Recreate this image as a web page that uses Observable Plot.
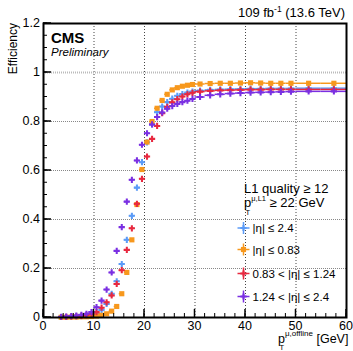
<!DOCTYPE html>
<html><head><meta charset="utf-8">
<script src="https://cdn.jsdelivr.net/npm/d3@7"></script>
<script src="https://cdn.jsdelivr.net/npm/@observablehq/plot@0.6"></script>
<style>body{margin:0;background:#fff}#chart svg{display:block}</style>
</head><body><div id="chart"></div>
<script>
// bin edges of the pT binning (GeV)
const binEdges = [3,4,5,6,7,8,9,10,11,12,13,14,15,16,17,18,19,20,21,22,23,24,25,26,27,28,29,30,32,34,36,38,40,42,44,46,48,50,55,60];
// efficiencies per series (one value per bin)
const effAll = [0.002,0.002,0.003,0.004,0.005,0.007,0.010,0.016,0.030,0.055,0.097,0.148,0.218,0.317,0.415,0.530,0.634,0.715,0.788,0.838,0.861,0.879,0.893,0.905,0.912,0.918,0.922,
  0.926,0.929,0.931,0.932,0.933,0.934,0.934,0.935,0.935,0.935,0.936,0.936];
const effBarrel = [0.001,0.001,0.002,0.002,0.003,0.003,0.004,0.006,0.009,0.015,0.026,0.045,0.097,0.184,0.317,0.461,0.604,0.716,0.800,0.854,0.886,0.911,0.929,0.938,0.944,0.948,0.951,
  0.953,0.955,0.956,0.956,0.957,0.958,0.957,0.956,0.956,0.956,0.956,0.956];
const effOverlap = [0.002,0.003,0.004,0.005,0.007,0.010,0.014,0.022,0.040,0.062,0.090,0.137,0.193,0.276,0.364,0.464,0.566,0.657,0.729,0.782,0.834,0.860,0.878,0.891,0.902,0.911,0.917,
  0.922,0.925,0.927,0.928,0.929,0.930,0.930,0.931,0.931,0.931,0.931,0.931];
const effEndcap = [0.003,0.004,0.006,0.008,0.011,0.015,0.022,0.042,0.069,0.114,0.184,0.272,0.369,0.473,0.562,0.641,0.705,0.752,0.788,0.818,0.837,0.852,0.863,0.872,0.879,0.885,0.892,
  0.900,0.907,0.911,0.914,0.916,0.918,0.919,0.920,0.921,0.922,0.923,0.923];

const seriesNames = ["|η| ≤ 2.4", "|η| ≤ 0.83", "0.83 < |η| ≤ 1.24", "1.24 < |η| ≤ 2.4"];
const seriesValues = [effAll, effBarrel, effOverlap, effEndcap];
const seriesColors = ["#5b9bf7", "#f7981d", "#e8283f", "#7a2fe2"];
const seriesSymbols = ["cross", "square", "cross", "cross"];

const xTickValues = [0,10,20,30,40,50,60];
const xTickLabels = ["0","10","20","30","40","50","60"];
const xMinorValues = d3.range(0, 60.001, 2);
const yTickValues = [0,0.2,0.4,0.6,0.8,1.0,1.2];
const yTickLabels = ["0","0.2","0.4","0.6","0.8","1","1.2"];
const yMinorValues = d3.range(0, 1.2001, 0.05);
const xGridValues = [10,20,30,40,50];
const yGridValues = [0.2,0.4,0.6,0.8];

const rows = [];
seriesValues.forEach((vals, s) => {
  vals.forEach((v, i) => {
    rows.push({series: s, lo: binEdges[i], hi: binEdges[i+1], x: (binEdges[i] + binEdges[i+1]) / 2, eff: v});
  });
});

const seriesMarks = [];
seriesValues.forEach((_, s) => {
  const d = rows.filter(r => r.series === s);
  seriesMarks.push(Plot.ruleY(d, {y: "eff", x1: "lo", x2: "hi", stroke: seriesColors[s], strokeWidth: 1.5}));
  seriesMarks.push(Plot.dot(d, {x: "x", y: "eff", symbol: seriesSymbols[s], fill: seriesColors[s], r: seriesSymbols[s] === "square" ? 2.9 : 2.6}));
});

const plot = Plot.plot({
  width: 353, height: 351,
  marginLeft: 43, marginRight: 7, marginTop: 23, marginBottom: 34,
  x: {domain: [0, 60], axis: null},
  y: {domain: [0, 1.2], axis: null},
  style: {fontFamily: "'Liberation Sans', Arial, sans-serif", background: "white", overflow: "visible"},
  marks: [
    Plot.ruleX(xGridValues, {stroke: "#444", strokeDasharray: "1,2", strokeWidth: 1}),
    Plot.ruleY(yGridValues, {stroke: "#888", strokeDasharray: "1,1", strokeWidth: 1}),
    Plot.ruleY([1], {stroke: "#bbb", strokeDasharray: "1,1", strokeWidth: 2}),
    ...seriesMarks,
    Plot.frame({stroke: "black", strokeWidth: 2})
  ]
});

const sx = plot.scale("x"), sy = plot.scale("y");
const svg = d3.select(plot);
const g = svg.append("g").attr("font-family", "'Liberation Sans', Arial, sans-serif").attr("fill", "black").attr("text-anchor", "start");
const x0 = sx.apply(0), y0 = sy.apply(0);

// y ticks (inward)
yMinorValues.forEach(v => g.append("line").attr("x1", x0).attr("x2", x0 + 4).attr("y1", sy.apply(v)).attr("y2", sy.apply(v)).attr("stroke", "black"));
yTickValues.forEach(v => g.append("line").attr("x1", x0).attr("x2", x0 + 8).attr("y1", sy.apply(v)).attr("y2", sy.apply(v)).attr("stroke", "black").attr("stroke-width", 1.5));
yTickValues.forEach((v, i) => g.append("text").attr("x", x0 - 3).attr("y", sy.apply(v)).attr("dy", "0.35em").attr("text-anchor", "end").attr("font-size", 12.5).text(yTickLabels[i]));
// x ticks (inward)
xMinorValues.forEach(v => g.append("line").attr("x1", sx.apply(v)).attr("x2", sx.apply(v)).attr("y1", y0).attr("y2", y0 - 4).attr("stroke", "black"));
xTickValues.forEach(v => g.append("line").attr("x1", sx.apply(v)).attr("x2", sx.apply(v)).attr("y1", y0).attr("y2", y0 - 8).attr("stroke", "black").attr("stroke-width", 1.5));
xTickValues.forEach((v, i) => g.append("text").attr("x", sx.apply(v)).attr("y", y0 + 13).attr("text-anchor", "middle").attr("font-size", 12.5).text(xTickLabels[i]));

// axis titles
g.append("text").attr("transform", "translate(17,23) rotate(-90)").attr("text-anchor", "end").attr("font-size", 12).text("Efficiency");
const xt = g.append("text").attr("x", 278).attr("y", 342.5).attr("font-size", 12.5);
xt.append("tspan").text("p");
xt.append("tspan").attr("dy", -6.5).attr("font-size", 8).text("μ,offline");
xt.append("tspan").attr("dy", 6.5).text(" [GeV]");
g.append("text").attr("x", 279.5).attr("y", 350).attr("font-size", 7.5).text("T");

// top labels
const lt = g.append("text").attr("x", 345).attr("y", 17).attr("text-anchor", "end").attr("font-size", 13);
lt.append("tspan").text("109 fb");
lt.append("tspan").attr("dy", -5).attr("font-size", 8.5).text("-1");
lt.append("tspan").attr("dy", 5).text(" (13.6 TeV)");
g.append("text").attr("x", 51).attr("y", 42.5).attr("font-size", 15).attr("font-weight", "bold").text("CMS");
g.append("text").attr("x", 51).attr("y", 56).attr("font-size", 11.5).attr("font-style", "italic").text("Preliminary");

// legend
g.append("text").attr("x", 244).attr("y", 192.5).attr("font-size", 13).text("L1 quality ≥ 12");
const l2 = g.append("text").attr("x", 244).attr("y", 206.5).attr("font-size", 13);
l2.append("tspan").text("p");
l2.append("tspan").attr("dy", -6).attr("font-size", 7.5).text("μ,L1");
l2.append("tspan").attr("dy", 6).text(" ≥ 22 GeV");
g.append("text").attr("x", 245.5).attr("y", 214.5).attr("font-size", 7.5).text("T");

const legendY = [228, 249.5, 273.5, 296.5];
seriesNames.forEach((name, s) => {
  const cx = 243.5, cy = legendY[s];
  g.append("line").attr("x1", cx - 6).attr("x2", cx + 6).attr("y1", cy).attr("y2", cy).attr("stroke", seriesColors[s]).attr("stroke-width", 1.5);
  g.append("line").attr("x1", cx).attr("x2", cx).attr("y1", cy - 6).attr("y2", cy + 6).attr("stroke", seriesColors[s]).attr("stroke-width", 1.5);
  const sym = seriesSymbols[s] === "square" ? d3.symbolSquare : d3.symbolCross;
  const r = seriesSymbols[s] === "square" ? 2.9 : 2.6;
  g.append("path").attr("transform", `translate(${cx},${cy})`).attr("d", d3.symbol(sym, Math.PI * r * r)()).attr("fill", seriesColors[s]);
  g.append("text").attr("x", 252.5).attr("y", cy).attr("dy", "0.35em").attr("font-size", 11.5).text(name);
});

document.getElementById("chart").appendChild(plot);
</script>
</body></html>
